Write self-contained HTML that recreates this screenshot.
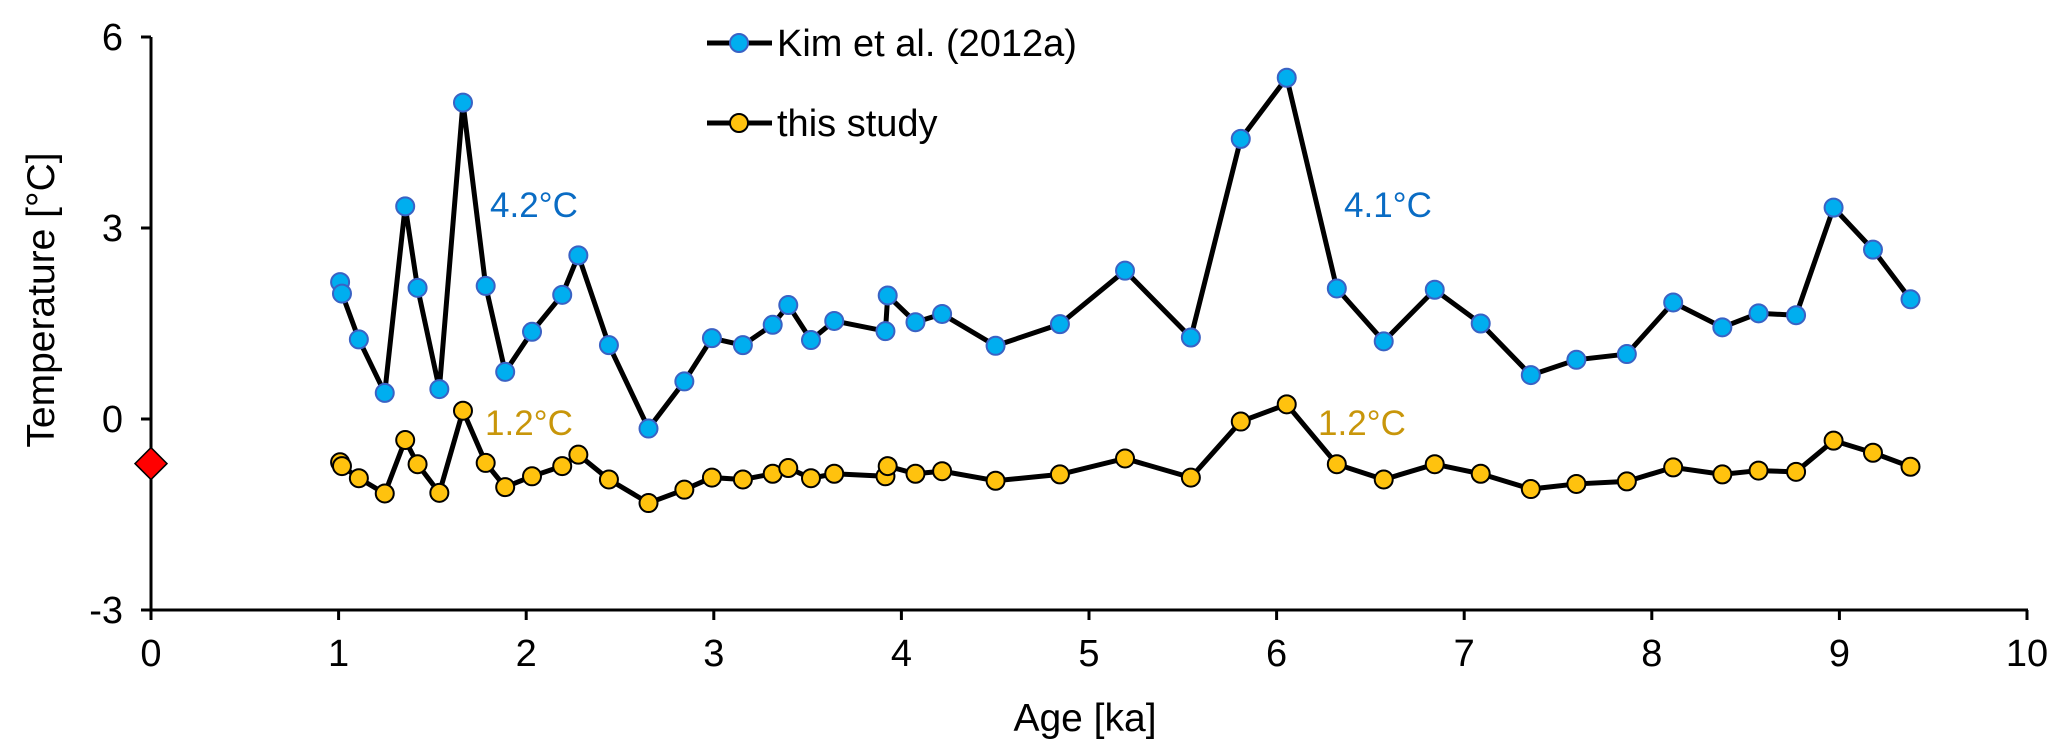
<!DOCTYPE html>
<html><head><meta charset="utf-8"><style>
html,body{margin:0;padding:0;background:#fff;}
svg{display:block;font-family:"Liberation Sans",Arial,sans-serif;}
</style></head><body>
<svg id="chart" width="2067" height="756" viewBox="0 0 2067 756" xmlns="http://www.w3.org/2000/svg"></svg>
<script>
const kimAge=[1.008,1.018,1.108,1.246,1.355,1.421,1.537,1.663,1.784,1.888,2.031,2.192,2.278,2.441,2.652,2.843,2.99,3.155,3.314,3.397,3.518,3.642,3.915,3.927,4.075,4.217,4.502,4.845,5.192,5.543,5.809,6.054,6.321,6.571,6.843,7.088,7.355,7.598,7.867,8.114,8.376,8.569,8.769,8.969,9.179,9.379];
const kimTemp=[2.15,1.97,1.25,0.41,3.34,2.06,0.47,4.97,2.09,0.74,1.37,1.95,2.57,1.16,-0.15,0.59,1.27,1.16,1.48,1.79,1.24,1.54,1.38,1.94,1.52,1.65,1.15,1.49,2.33,1.28,4.40,5.36,2.05,1.22,2.03,1.50,0.69,0.93,1.02,1.83,1.44,1.66,1.63,3.32,2.66,1.88];
const studyAge=kimAge.slice();
const studyTemp=[-0.68,-0.74,-0.93,-1.17,-0.33,-0.71,-1.16,0.13,-0.69,-1.07,-0.90,-0.74,-0.56,-0.95,-1.32,-1.11,-0.92,-0.95,-0.86,-0.77,-0.93,-0.86,-0.90,-0.74,-0.86,-0.82,-0.97,-0.87,-0.62,-0.92,-0.04,0.23,-0.71,-0.95,-0.71,-0.86,-1.10,-1.02,-0.98,-0.76,-0.87,-0.81,-0.83,-0.34,-0.53,-0.75];
const xTicks=[0,1,2,3,4,5,6,7,8,9,10];
const yTicks=[-3,0,3,6];
const modernAge=[0];
const modernTemp=[-0.7];

const NS="http://www.w3.org/2000/svg";
const svg=document.getElementById('chart');
const X0=151,X1=2027,Y6=37,Ym3=610;
const sx=v=>X0+(v-0)*(X1-X0)/10;
const sy=v=>Ym3-(v+3)*(Ym3-Y6)/9;
function mk(tag,attrs,parent){const e=document.createElementNS(NS,tag);for(const k in attrs)e.setAttribute(k,attrs[k]);(parent||svg).appendChild(e);return e;}

const ax=mk('g',{});


const yl=mk('line',{x1:sx(0),y1:sy(6),x2:sx(0),y2:sy(-3),stroke:'#000','stroke-width':3},ax);


const xl=mk('line',{x1:sx(0)-1,y1:sy(-3),x2:sx(10)+1,y2:sy(-3),stroke:'#000','stroke-width':3},ax);


yTicks.forEach(t=>{
  const l=mk('line',{x1:sx(0)-10,y1:sy(t),x2:sx(0),y2:sy(t),stroke:'#000','stroke-width':3},ax);
  
  
  const tx=mk('text',{x:sx(0)-28,y:sy(t)+13,'text-anchor':'end','font-size':38},ax);
  tx.textContent=t;
  
  
});
xTicks.forEach(t=>{
  const l=mk('line',{x1:sx(t),y1:sy(-3),x2:sx(t),y2:sy(-3)+10,stroke:'#000','stroke-width':3},ax);
  
  
  const tx=mk('text',{x:sx(t),y:sy(-3)+56,'text-anchor':'middle','font-size':38},ax);
  tx.textContent=t;
  
  
});
const xt=mk('text',{x:1085,y:731,'text-anchor':'middle','font-size':39});
xt.textContent='Age [ka]';


const yt=mk('text',{x:0,y:0,'text-anchor':'middle','font-size':39,transform:'translate(54,300) rotate(-90)'});
yt.textContent='Temperature [°C]';



function series(ages,temps,fill,stroke,name){
  const g=mk('g',{});
  
  
  const pl=mk('polyline',{points:ages.map((a,i)=>sx(a)+','+sy(temps[i])).join(' '),fill:'none',stroke:'#000','stroke-width':5,'stroke-linejoin':'miter'},g);
  
  
  ages.forEach((a,i)=>{
    const c=mk('circle',{cx:sx(a),cy:sy(temps[i]),r:9,fill:fill,stroke:stroke,'stroke-width':2},g);
    
    
  });
}
series(kimAge,kimTemp,'#00aeef','#3a62c4','kim');
series(studyAge,studyTemp,'#ffc20e','#000','this-study');

modernAge.forEach((a,i)=>{
  const cx=sx(a),cy=sy(modernTemp[i]),h=16;
  const d=mk('polygon',{points:`${cx},${cy-h} ${cx+h},${cy} ${cx},${cy+h} ${cx-h},${cy}`,fill:'#ff0000',stroke:'#000','stroke-width':1.5});
  
  
});

[[490,217,'4.2°C','#0a6cc4','amplitude-label-kim-early'],[1344,217,'4.1°C','#0a6cc4','amplitude-label-kim-mid'],
 [485,435,'1.2°C','#c8960a','amplitude-label-study-early'],[1318,435,'1.2°C','#c8960a','amplitude-label-study-mid']].forEach(a=>{
  const t=mk('text',{x:a[0],y:a[1],'font-size':35,fill:a[3]});
  t.textContent=a[2];
  
  
});

const lg=mk('g',{});


[[43,'Kim et al. (2012a)','#00aeef','#3a62c4','legend-entry-kim'],[123,'this study','#ffc20e','#000','legend-entry-this-study']].forEach(e=>{
  const g=mk('g',{},lg);
  
  
  mk('line',{x1:707,y1:e[0],x2:772,y2:e[0],stroke:'#000','stroke-width':5},g);
  mk('circle',{cx:739,cy:e[0],r:9,fill:e[2],stroke:e[3],'stroke-width':2},g);
  const t=mk('text',{x:777,y:e[0]+13,'font-size':38},g);
  t.textContent=e[1];
});
</script>
</body></html>
